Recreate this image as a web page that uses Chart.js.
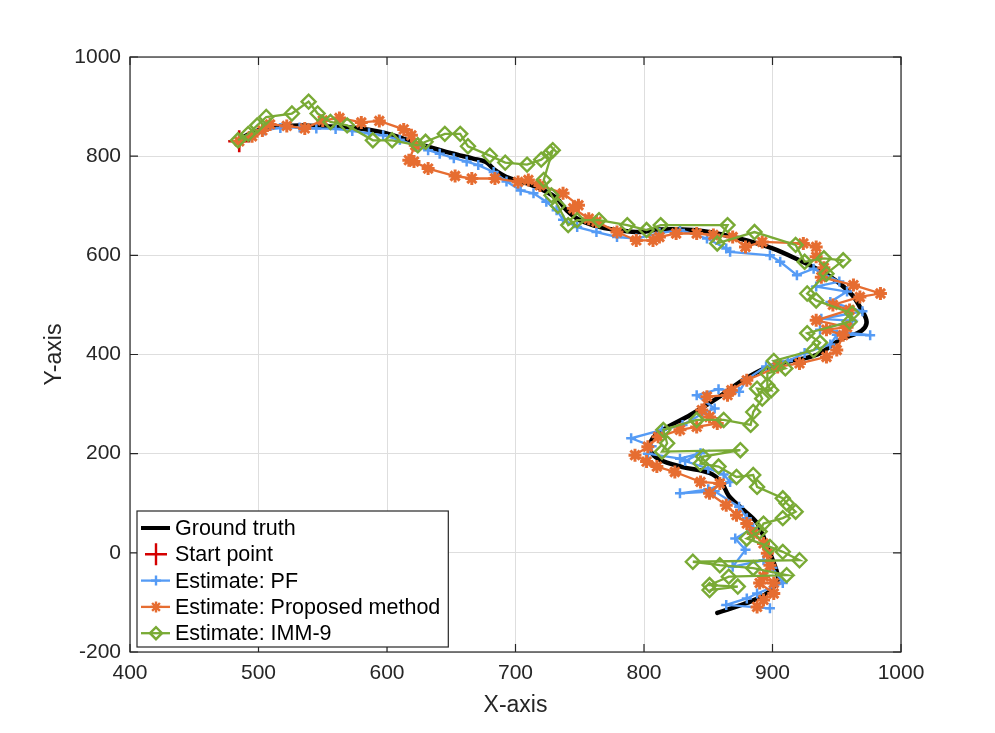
<!DOCTYPE html>
<html>
<head>
<meta charset="utf-8">
<title>Trajectory estimates</title>
<script src="https://cdn.jsdelivr.net/npm/chart.js@4.4.1/dist/chart.umd.min.js"></script>
<style>
  body { margin: 0; background: #fff; }
  #wrap { width: 995px; height: 733px; }
</style>
</head>
<body>
<div id="wrap"><canvas id="traj" width="995" height="733"></canvas></div>
<script>
// ground truth path
const gtX = [484,493,506,520,535,561,579,595,610,625,650,667,677,684,693,709,719,732,740,750,
  766,782,797,812,838,857,880,900,921,938,952,962,968,973,972,966,952,935,911,895,
  877,857,836,818,807,805,812,830,851,860,866,875,888,896,903,904,896,880,857];
const gtY = [832,845,857,861,862,859,856,849,838,824,806,795,788,772,758,745,735,715,690,671,
  657,650,647,652,651,644,630,614,590,568,544,520,496,470,455,443,429,400,385,373,
  348,312,278,253,232,207,188,173,161,143,115,92,60,12,-35,-55,-81,-101,-121];

const startX = [485];
const startY = [830];

// Estimate: PF
const pfX = [485,494,504,517,532,545,560,573,586,597,610,623,632,641,652,662,671,683,693,704,
  714,724,732,737,748,763,779,794,812,828,849,864,867,898,906,919,932,952,934,958,
  945,970,938,962,937,976,950,945,925,912,895,880,874,858,841,855,845,830,814,790,
  806,803,828,844,832,850,862,867,850,828,855,874,880,885,871,879,869,893,900,908,
  888,880,864,898];
const pfY = [830,840,852,857,858,856,855,851,846,842,833,820,812,805,796,789,782,768,749,731,
  725,708,691,672,657,647,637,634,645,651,634,614,607,600,587,560,573,547,537,527,
  506,487,472,468,450,439,440,420,403,387,376,350,325,330,318,291,280,258,248,231,
  215,200,190,201,185,170,158,143,128,120,124,93,70,50,29,6,-28,-15,-30,-61,
  -82,-92,-105,-112];

// Estimate: Proposed method
const pmX = [485,495,503,509,522,536,550,563,580,594,613,619,622,617,621,632,653,666,684,702,
  710,719,737,749,745,757,763,779,794,807,812,825,841,854,869,879,892,924,934,934,
  940,938,963,984,968,947,960,934,958,942,955,950,942,921,904,880,868,865,849,845,
  851,857,841,828,811,803,793,802,810,824,844,859,851,864,872,880,885,893,896,898,
  893,901,890,901,893,888];
const pmY = [830,840,852,864,861,856,872,877,868,871,854,842,822,792,789,775,760,755,755,748,
  752,741,725,701,695,674,668,647,630,630,637,644,644,641,637,617,627,624,617,597,
  575,556,540,523,516,500,490,469,455,450,439,409,395,382,375,348,328,318,315,288,
  274,261,254,248,234,214,197,184,174,163,143,140,120,96,76,59,39,19,-1,-25,
  -48,-61,-61,-82,-95,-109];

// Estimate: IMM-9
const immX = [484,492,499,506,526,539,546,556,569,589,604,624,630,645,657,663,680,692,709,720,
  727,729,722,728,733,741,748,765,787,802,813,865,857,886,918,925,940,955,942,927,
  934,962,960,927,937,932,901,910,896,896,899,888,892,885,883,862,841,815,818,814,
  875,846,844,858,872,885,888,908,911,918,908,893,890,880,898,908,921,838,859,885,
  911,866,851,873,851];
const immY = [832,845,862,879,886,910,886,869,862,832,832,822,829,845,845,820,801,787,783,793,
  807,812,752,721,700,661,671,671,661,651,661,661,624,647,621,587,594,590,563,523,
  509,483,466,443,424,409,387,372,362,338,328,331,311,284,258,268,268,248,221,204,
  207,194,180,174,153,157,133,110,100,83,70,59,43,29,12,2,-15,-18,-25,-31,
  -45,-48,-65,-68,-75];

const xLimits = [400, 1000];
const yLimits = [-200, 1000];

const RED = '#d40000', BLUE = '#559bf5', ORANGE = '#e66d31', GREEN = '#79aa35';
const INK = '#262626';
const FONT = "'Liberation Sans', Arial, Helvetica, sans-serif";

const toPts = (xs, ys) => xs.map((x, i) => ({x: x, y: ys[i]}));

function drawMarker(ctx, style, x, y, r) {
  ctx.beginPath();
  if (style === 'cross' || style === 'star') {
    ctx.moveTo(x - r, y); ctx.lineTo(x + r, y);
    ctx.moveTo(x, y - r); ctx.lineTo(x, y + r);
  }
  if (style === 'star') {
    const d = r * Math.SQRT1_2;
    ctx.moveTo(x - d, y - d); ctx.lineTo(x + d, y + d);
    ctx.moveTo(x - d, y + d); ctx.lineTo(x + d, y - d);
  }
  if (style === 'rectRot') {
    ctx.moveTo(x - r, y); ctx.lineTo(x, y - r);
    ctx.lineTo(x + r, y); ctx.lineTo(x, y + r);
    ctx.closePath();
  }
  ctx.stroke();
}

// box round the axes, inward ticks and the legend in the lower left
const framePlugin = {
  id: 'frame',
  afterDraw(chart) {
    const {ctx, chartArea: a, scales} = chart;
    ctx.save();
    ctx.strokeStyle = INK;
    ctx.lineWidth = 1.2;
    ctx.strokeRect(a.left, a.top, a.right - a.left, a.bottom - a.top);
    ctx.beginPath();
    scales.x.ticks.forEach(t => {
      const px = scales.x.getPixelForValue(t.value);
      ctx.moveTo(px, a.bottom); ctx.lineTo(px, a.bottom - 8);
      ctx.moveTo(px, a.top); ctx.lineTo(px, a.top + 8);
    });
    scales.y.ticks.forEach(t => {
      const py = scales.y.getPixelForValue(t.value);
      ctx.moveTo(a.left, py); ctx.lineTo(a.left + 8, py);
      ctx.moveTo(a.right, py); ctx.lineTo(a.right - 8, py);
    });
    ctx.stroke();

    // legend
    const items = chart.data.datasets.map(ds => ({
      text: ds.label, color: ds.borderColor, line: ds.showLine ? ds.borderWidth : 0,
      marker: ds.pointRadius ? ds.pointStyle : null, r: ds.legendRadius
    }));
    ctx.font = '21.5px ' + FONT;
    const tw = Math.max(...items.map(it => ctx.measureText(it.text).width));
    const bx = a.left + 7, by = a.bottom - 141;
    const bw = 38 + tw + 8, bh = 136;
    ctx.fillStyle = '#fff';
    ctx.fillRect(bx, by, bw, bh);
    ctx.lineWidth = 1.2;
    ctx.strokeStyle = INK;
    ctx.strokeRect(bx, by, bw, bh);
    items.forEach((it, i) => {
      const cy = by + 17 + i * 26.3;
      ctx.strokeStyle = it.color;
      if (it.line) {
        ctx.lineWidth = Math.min(it.line, 4);
        ctx.beginPath(); ctx.moveTo(bx + 4, cy); ctx.lineTo(bx + 33, cy); ctx.stroke();
      }
      if (it.marker) {
        ctx.lineWidth = 2.4;
        drawMarker(ctx, it.marker, bx + 19, cy, it.r);
      }
      ctx.fillStyle = '#000';
      ctx.textBaseline = 'middle';
      ctx.textAlign = 'left';
      ctx.fillText(it.text, bx + 38, cy + 1);
    });
    ctx.restore();
  }
};

Chart.defaults.font.family = FONT;
Chart.defaults.color = INK;

const plainTick = v => String(v);

new Chart(document.getElementById('traj'), {
  type: 'scatter',
  data: {
    datasets: [
      {
        label: 'Ground truth', data: toPts(gtX, gtY), showLine: true,
        borderColor: '#000', borderWidth: 4.5, pointRadius: 0, tension: 0.35,
        borderCapStyle: 'round', borderJoinStyle: 'round', order: 5
      },
      {
        label: 'Start point', data: toPts(startX, startY), showLine: false,
        borderColor: RED, pointStyle: 'cross', pointRadius: 11, pointBorderWidth: 2.6,
        pointBorderColor: RED, legendRadius: 11, order: 4
      },
      {
        label: 'Estimate: PF', data: toPts(pfX, pfY), showLine: true,
        borderColor: BLUE, borderWidth: 2.3, pointStyle: 'cross', pointRadius: 5,
        pointBorderWidth: 2.5, pointBorderColor: BLUE, legendRadius: 5, order: 3
      },
      {
        label: 'Estimate: Proposed method', data: toPts(pmX, pmY), showLine: true,
        borderColor: ORANGE, borderWidth: 2.3, pointStyle: 'star', pointRadius: 6.5,
        pointBorderWidth: 3, pointBorderColor: ORANGE, legendRadius: 5.5, order: 2
      },
      {
        label: 'Estimate: IMM-9', data: toPts(immX, immY), showLine: true,
        borderColor: GREEN, borderWidth: 2.3, pointStyle: 'rectRot', pointRadius: 7,
        pointBorderWidth: 2.4, pointBorderColor: GREEN, pointBackgroundColor: 'rgba(0,0,0,0)',
        legendRadius: 6, order: 1
      }
    ]
  },
  options: {
    responsive: false,
    animation: false,
    events: [],
    layout: { padding: { top: 57, right: 94, left: 0, bottom: 0 } },
    plugins: { legend: { display: false }, tooltip: { enabled: false } },
    scales: {
      x: {
        type: 'linear', min: xLimits[0], max: xLimits[1],
        afterFit: s => { s.height = 81; },
        ticks: { stepSize: 100, font: { size: 21 }, color: INK, padding: 9, maxRotation: 0, callback: plainTick },
        grid: { color: '#dedede', lineWidth: 1, drawTicks: false },
        border: { display: false },
        title: { display: true, text: 'X-axis', font: { size: 23 }, color: INK, padding: { top: 0, bottom: 14 } }
      },
      y: {
        type: 'linear', min: yLimits[0], max: yLimits[1],
        afterFit: s => { s.width = 130; },
        ticks: { stepSize: 200, font: { size: 21 }, color: INK, padding: 9, callback: plainTick },
        grid: { color: '#dedede', lineWidth: 1, drawTicks: false },
        border: { display: false },
        title: { display: true, text: 'Y-axis', font: { size: 23 }, color: INK, padding: { top: 41, bottom: 0 } }
      }
    }
  },
  plugins: [framePlugin]
});
</script>
</body>
</html>
